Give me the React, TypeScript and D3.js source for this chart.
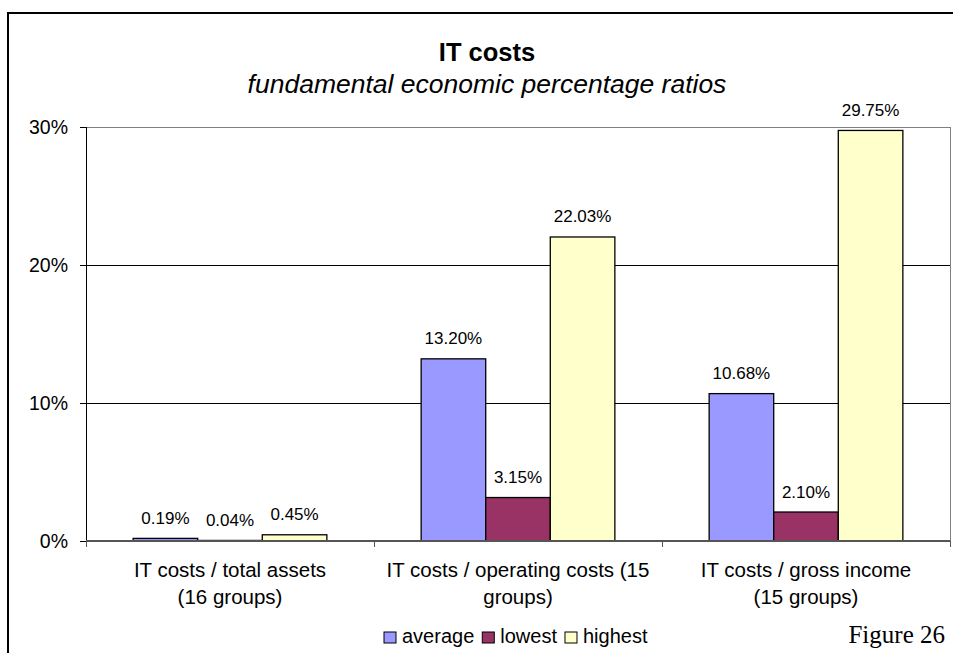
import React, { useEffect, useRef } from "react";
import * as d3 from "d3";

const categoryLines: string[][] = [
  ["IT costs / total assets", "(16 groups)"],
  ["IT costs / operating costs (15", "groups)"],
  ["IT costs / gross income", "(15 groups)"],
];
const seriesNames = ["average", "lowest", "highest"];
const seriesColors = ["#9999FF", "#993366", "#FFFFCC"];
const averageValues = [0.19, 13.2, 10.68];
const lowestValues = [0.04, 3.15, 2.1];
const highestValues = [0.45, 22.03, 29.75];
const yTicks = [0, 10, 20, 30];
const titleText = "IT costs";
const subtitleText = "fundamental economic percentage ratios";
const figureText = "Figure 26";

const W = 953;
const H = 653;

export default function App() {
  const ref = useRef<SVGSVGElement | null>(null);

  useEffect(() => {
    const svg = d3.select(ref.current);
    svg.selectAll("*").remove();
    const font = "'Liberation Sans', Arial, sans-serif";

    const left = 86, right = 950, top = 127, bottom = 541;
    const cats = categoryLines.map((_, i) => String(i));
    const x = d3.scaleBand<string>().domain(cats).range([left, right]).padding(0);
    const xs = d3.scaleBand<string>().domain(seriesNames).range([0, x.bandwidth()]).paddingInner(0).paddingOuter(0.73);
    const y = d3.scaleLinear().domain([0, 30]).range([bottom, top]);

    // outer frame
    svg.append("rect").attr("x", 8).attr("y", 13).attr("width", 1000).attr("height", 700)
      .attr("fill", "white").attr("stroke", "#000").attr("stroke-width", 2);

    // title
    svg.append("text").attr("x", 487).attr("y", 61).attr("text-anchor", "middle")
      .attr("font-family", font).attr("font-weight", "bold").attr("font-size", 25.5).text(titleText);
    svg.append("text").attr("x", 487).attr("y", 93).attr("text-anchor", "middle")
      .attr("font-family", font).attr("font-style", "italic").attr("font-size", 26.5).text(subtitleText);

    // gridlines
    svg.append("g").selectAll("line").data(yTicks.filter((t) => t > 0 && t < 30)).join("line")
      .attr("x1", left).attr("x2", right).attr("y1", (d) => y(d)).attr("y2", (d) => y(d))
      .attr("stroke", "#000").attr("stroke-width", 1).attr("shape-rendering", "crispEdges");
    // plot border top/right
    svg.append("path").attr("d", `M${left},${y(30)}H${right}V${bottom}`)
      .attr("fill", "none").attr("stroke", "#808080").attr("stroke-width", 1).attr("shape-rendering", "crispEdges");

    // bars
    const series = [averageValues, lowestValues, highestValues];
    const fmt = (v: number) => v.toFixed(2) + "%";
    series.forEach((vals, si) => {
      const g = svg.append("g");
      g.selectAll("rect").data(vals).join("rect")
        .attr("x", (_, i) => (x(String(i)) as number) + (xs(seriesNames[si]) as number))
        .attr("y", (d) => y(d))
        .attr("width", xs.bandwidth())
        .attr("height", (d) => y(0) - y(d))
        .attr("fill", seriesColors[si]).attr("stroke", "#000").attr("stroke-width", 1.3);
      g.selectAll("text").data(vals).join("text")
        .attr("x", (_, i) => (x(String(i)) as number) + (xs(seriesNames[si]) as number) + xs.bandwidth() / 2)
        .attr("y", (d) => y(d) - 14.5)
        .attr("text-anchor", "middle").attr("font-family", font).attr("font-size", 17)
        .text((d) => fmt(d));
    });

    // y axis
    svg.append("line").attr("x1", left).attr("x2", left).attr("y1", top).attr("y2", bottom + 6)
      .attr("stroke", "#000").attr("stroke-width", 1).attr("shape-rendering", "crispEdges");
    svg.append("g").selectAll("line").data(yTicks).join("line")
      .attr("x1", left - 6).attr("x2", left).attr("y1", (d) => y(d)).attr("y2", (d) => y(d))
      .attr("stroke", "#000").attr("shape-rendering", "crispEdges");
    svg.append("g").selectAll("text").data(yTicks).join("text")
      .attr("x", 68).attr("y", (d) => y(d)).attr("dy", "0.35em").attr("text-anchor", "end")
      .attr("font-family", font).attr("font-size", 19.5).text((d) => d + "%");

    // x axis
    svg.append("line").attr("x1", left).attr("x2", right).attr("y1", bottom).attr("y2", bottom)
      .attr("stroke", "#555").attr("stroke-width", 1.5).attr("shape-rendering", "crispEdges");
    const tickXs = cats.map((c) => x(c) as number).concat([right]);
    svg.append("g").selectAll("line").data(tickXs).join("line")
      .attr("x1", (d) => d).attr("x2", (d) => d).attr("y1", bottom).attr("y2", bottom + 6)
      .attr("stroke", "#555").attr("shape-rendering", "crispEdges");
    const cl = svg.append("g").selectAll("text").data(categoryLines).join("text")
      .attr("text-anchor", "middle").attr("font-family", font).attr("font-size", 20.5);
    cl.each(function (lines, i) {
      const t = d3.select(this);
      const cx = (x(String(i)) as number) + x.bandwidth() / 2;
      lines.forEach((ln, li) => {
        t.append("tspan").attr("x", cx).attr("y", 577 + li * 27).text(ln);
      });
    });

    // legend
    const lg = svg.append("g");
    let lx = 384;
    seriesNames.forEach((name, i) => {
      lg.append("rect").attr("x", lx).attr("y", 632).attr("width", 12).attr("height", 11)
        .attr("fill", seriesColors[i]).attr("stroke", "#000").attr("stroke-width", 1);
      const t = lg.append("text").attr("x", lx + 18).attr("y", 643)
        .attr("font-family", font).attr("font-size", 20).text(name);
      const w = (t.node() as SVGTextElement).getComputedTextLength();
      lx += 18 + w + 8;
    });

    svg.append("text").attr("x", 945).attr("y", 643).attr("text-anchor", "end")
      .attr("font-family", "'Liberation Serif', 'Times New Roman', serif").attr("font-size", 25)
      .text(figureText);
  }, []);

  return (
    <div style={{ position: "absolute", left: 0, top: 0 }}>
      <svg ref={ref} width={W} height={H} style={{ display: "block" }} />
    </div>
  );
}
